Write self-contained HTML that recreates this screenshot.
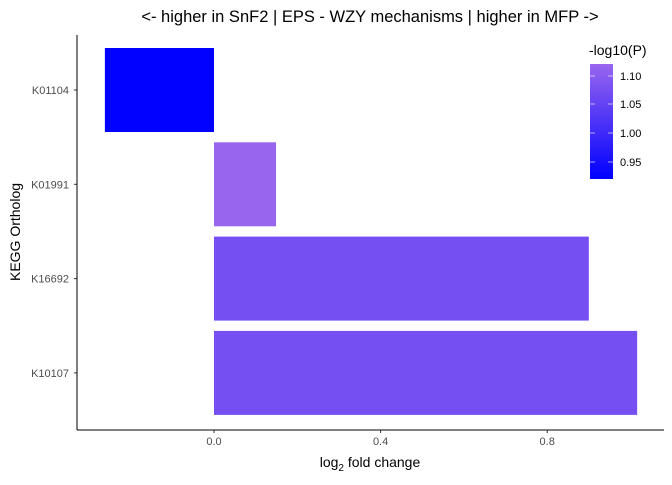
<!DOCTYPE html>
<html><head><meta charset="utf-8"><style>
body{margin:0;background:#fff;font-family:"Liberation Sans",sans-serif}
svg text{font-family:"Liberation Sans",sans-serif}
</style></head><body>
<svg id="c" width="672" height="480">
<defs><linearGradient id="g" x1="0" y1="1" x2="0" y2="0"><stop offset="0" stop-color="#0000FF"/><stop offset="1" stop-color="#9966EE"/></linearGradient></defs>
</svg>
<script>
const categories=["K01104","K01991","K16692","K10107"];
const foldChange=[-0.262,0.149,0.90,1.016];
const logP=[0.92,1.12,1.075,1.075];
const xTicks=[0.0,0.4,0.8];
const legendTicks=[0.95,1.00,1.05,1.10];
const NS="http://www.w3.org/2000/svg";
const svg=document.getElementById('c');
function el(t,a,txt){const e=document.createElementNS(NS,t);for(const k in a)e.setAttribute(k,a[k]);if(txt!=null)e.textContent=txt;svg.appendChild(e);return e;}
const x=v=>214+v*416.5;
const yC=i=>90+i*94.3;
const pMin=0.919,pMax=1.121;
function col(p){const t=Math.max(0,Math.min(1,(p-pMin)/(pMax-pMin)));return `rgb(${Math.round(153*t)},${Math.round(102*t)},${Math.round(255-17*t)})`;}
const lgY=p=>179-(p-pMin)/(pMax-pMin)*115;
categories.forEach((c,i)=>{
 const v=foldChange[i];
 const b=el('rect',{x:Math.min(x(0),x(v)),y:yC(i)-42,width:Math.abs(x(v)-x(0)),height:84,fill:col(logP[i])});
 
 
 const t=el('text',{x:69,y:yC(i)+4,'text-anchor':'end','font-size':11,fill:'#4d4d4d'},c);
 
 
 el('line',{x1:74,x2:77,y1:yC(i),y2:yC(i),stroke:'#333'});
});
el('line',{x1:77,x2:77,y1:35,y2:430,stroke:'#000','stroke-width':1});
el('line',{x1:77,x2:664,y1:430,y2:430,stroke:'#000','stroke-width':1});
xTicks.forEach(v=>{
 el('line',{x1:x(v),x2:x(v),y1:430,y2:433,stroke:'#333'});
 const t=el('text',{x:x(v),y:445,'text-anchor':'middle','font-size':11,fill:'#4d4d4d'},v.toFixed(1));
 
 
});
</script>
<svg style="position:absolute;left:0;top:0" width="672" height="480">
<text x="370" y="22" text-anchor="middle" font-size="16.5">&lt;- higher in SnF2 | EPS - WZY mechanisms | higher in MFP -&gt;</text>
<text x="370" y="467" text-anchor="middle" font-size="14">log<tspan font-size="10" dy="4">2</tspan><tspan dy="-4"> fold change</tspan></text>
<text transform="translate(20,232) rotate(-90)" text-anchor="middle" font-size="14">KEGG Ortholog</text>
<text x="589" y="55" font-size="14">-log10(P)</text>
<rect x="590" y="64" width="23" height="115" fill="url(#g)"/>
<g font-size="11" fill="#000">
<text x="620" y="80">1.10</text><text x="620" y="108">1.05</text><text x="620" y="137">1.00</text><text x="620" y="166">0.95</text>
</g>
<g stroke="#fff" stroke-opacity="0.6">
<line x1="590" x2="595" y1="76" y2="76"/><line x1="608" x2="613" y1="76" y2="76"/>
<line x1="590" x2="595" y1="104" y2="104"/><line x1="608" x2="613" y1="104" y2="104"/>
<line x1="590" x2="595" y1="133" y2="133"/><line x1="608" x2="613" y1="133" y2="133"/>
<line x1="590" x2="595" y1="162" y2="162"/><line x1="608" x2="613" y1="162" y2="162"/>
</g>
</svg>
</body></html>
